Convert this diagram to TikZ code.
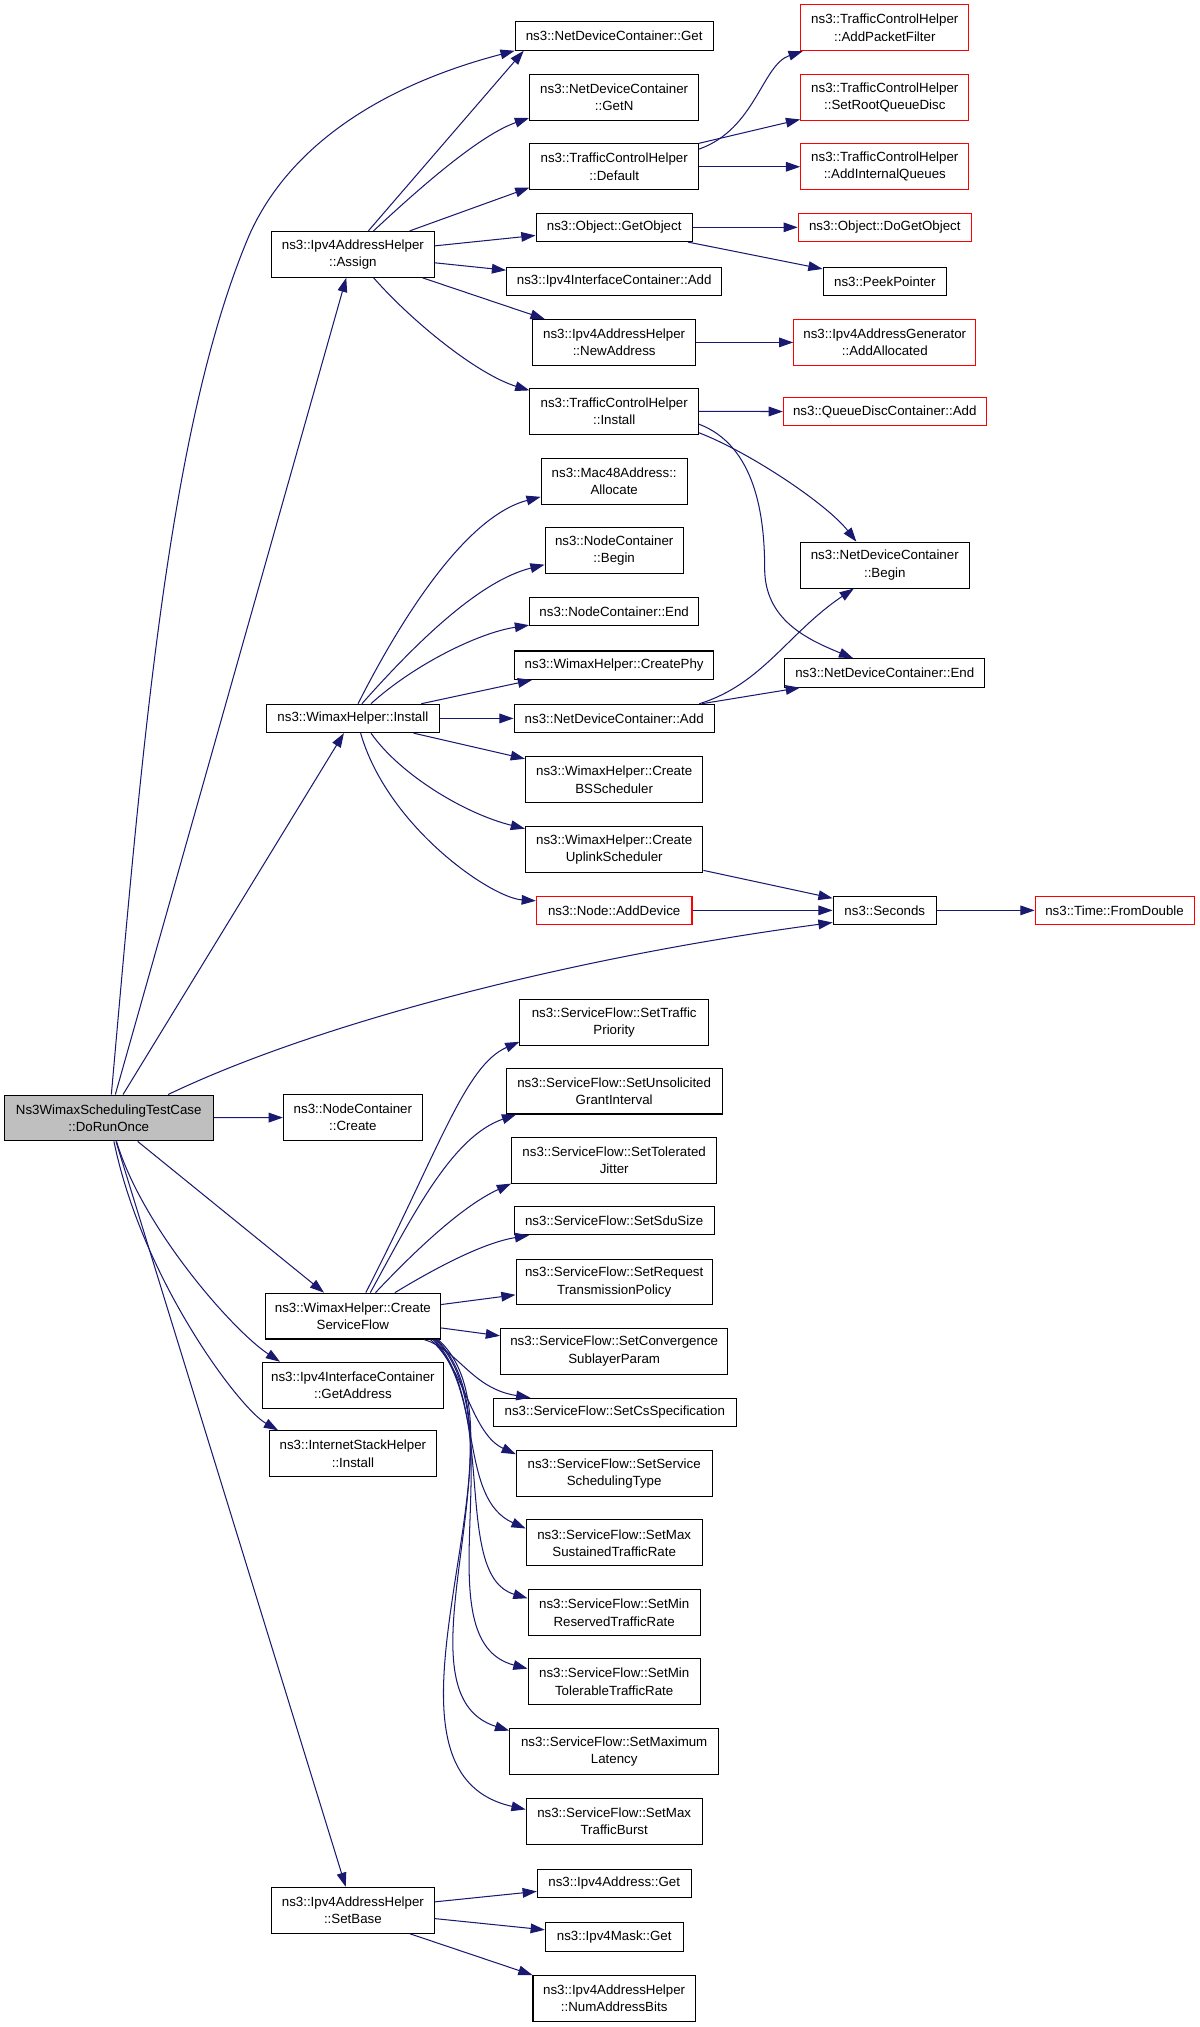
\documentclass[tikz,border=0pt]{standalone}
\usepackage{fontspec}
\setmainfont{Liberation Sans}
\usetikzlibrary{arrows.meta}
\tikzset{>={Triangle[length=11pt,width=7.5pt]}}
\definecolor{callblue}{HTML}{191970}
\definecolor{rootgray}{HTML}{BFBFBF}
\definecolor{extred}{HTML}{FF0000}

\begin{document}
\begin{tikzpicture}[x=1pt,y=-1pt,
  fn/.style={draw=black,line width=0.8pt,align=center,inner sep=0pt,
    font=\fontsize{10.3}{13.4}\selectfont,minimum height=22pt},
  two/.style={minimum height=35.5pt},
  ext/.style={draw=extred},
  start/.style={fill=rootgray},
  call/.style={->,draw=callblue,line width=0.8pt}]
\useasboundingbox (0,0) rectangle (929.03,1569.3);

\node[fn,two,start,minimum width=162pt] (root) at (84.2,865.5) {Ns3WimaxSchedulingTestCase\\::DoRunOnce};

\node[fn,two,minimum width=126.5pt] (assign) at (273.2,196.9) {ns3::Ipv4AddressHelper\\::Assign};
\node[fn,minimum width=134.3pt] (install) at (273.2,556.2) {ns3::WimaxHelper::Install};
\node[fn,two,minimum width=107.5pt] (create) at (273.2,865.1) {ns3::NodeContainer\\::Create};
\node[fn,two,minimum width=136pt] (csf) at (273.2,1018.9) {ns3::WimaxHelper::Create\\ServiceFlow};
\node[fn,two,minimum width=140pt] (getaddr) at (273.2,1072.4) {ns3::Ipv4InterfaceContainer\\::GetAddress};
\node[fn,two,minimum width=129pt] (ish) at (273.2,1125.5) {ns3::InternetStackHelper\\::Install};
\node[fn,two,minimum width=126pt] (setbase) at (273.2,1478.9) {ns3::Ipv4AddressHelper\\::SetBase};

\node[fn,minimum width=153.3pt] (get) at (475.5,27.9) {ns3::NetDeviceContainer::Get};
\node[fn,two,minimum width=131pt] (getn) at (475.5,75.2) {ns3::NetDeviceContainer\\::GetN};
\node[fn,two,minimum width=130.5pt] (default) at (475.5,129.1) {ns3::TrafficControlHelper\\::Default};
\node[fn,minimum width=121pt] (getobject) at (475.5,176) {ns3::Object::GetObject};
\node[fn,minimum width=166.6pt] (icadd) at (475.5,217.8) {ns3::Ipv4InterfaceContainer::Add};
\node[fn,two,minimum width=126.5pt] (newaddr) at (475.5,265.1) {ns3::Ipv4AddressHelper\\::NewAddress};
\node[fn,two,minimum width=130.5pt] (tchinstall) at (475.5,318.4) {ns3::TrafficControlHelper\\::Install};
\node[fn,two,minimum width=113pt] (mac48) at (475.5,372.5) {ns3::Mac48Address::\\Allocate};
\node[fn,two,minimum width=107pt] (ncbegin) at (475.5,426) {ns3::NodeContainer\\::Begin};
\node[fn,minimum width=131pt] (ncend) at (475.5,473.6) {ns3::NodeContainer::End};
\node[fn,minimum width=154.3pt] (createphy) at (475.5,515) {ns3::WimaxHelper::CreatePhy};
\node[fn,minimum width=155pt] (ndcadd) at (475.5,556.2) {ns3::NetDeviceContainer::Add};
\node[fn,two,minimum width=137.4pt] (bss) at (475.5,603.6) {ns3::WimaxHelper::Create\\BSScheduler};
\node[fn,two,minimum width=137.4pt] (uplink) at (475.5,657.7) {ns3::WimaxHelper::Create\\UplinkScheduler};
\node[fn,ext,minimum width=120.5pt] (adddevice) at (475.5,704.8) {ns3::Node::AddDevice};

\node[fn,two,minimum width=146pt] (tp) at (475.5,791.4) {ns3::ServiceFlow::SetTraffic\\Priority};
\node[fn,two,minimum width=167pt] (sugi) at (475.5,844.7) {ns3::ServiceFlow::SetUnsolicited\\GrantInterval};
\node[fn,two,minimum width=159pt] (jitter) at (475.5,898.2) {ns3::ServiceFlow::SetTolerated\\Jitter};
\node[fn,minimum width=155pt] (sdu) at (475.5,945) {ns3::ServiceFlow::SetSduSize};
\node[fn,two,minimum width=152pt] (rtp) at (475.5,992.5) {ns3::ServiceFlow::SetRequest\\TransmissionPolicy};
\node[fn,two,minimum width=176pt] (csp) at (475.5,1046) {ns3::ServiceFlow::SetConvergence\\SublayerParam};
\node[fn,minimum width=188pt] (css) at (476,1093.5) {ns3::ServiceFlow::SetCsSpecification};
\node[fn,two,minimum width=151.5pt] (sst) at (475.5,1141) {ns3::ServiceFlow::SetService\\SchedulingType};
\node[fn,two,minimum width=136.3pt] (maxsus) at (475.5,1194.5) {ns3::ServiceFlow::SetMax\\SustainedTrafficRate};
\node[fn,two,minimum width=133.4pt] (minres) at (475.5,1248.5) {ns3::ServiceFlow::SetMin\\ReservedTrafficRate};
\node[fn,two,minimum width=133.4pt] (mintol) at (475.5,1302) {ns3::ServiceFlow::SetMin\\TolerableTrafficRate};
\node[fn,two,minimum width=161.8pt] (maxlat) at (475.5,1356) {ns3::ServiceFlow::SetMaximum\\Latency};
\node[fn,two,minimum width=136.3pt] (mtb) at (475.5,1410) {ns3::ServiceFlow::SetMax\\TrafficBurst};

\node[fn,minimum width=119pt] (ipv4get) at (475.5,1458.2) {ns3::Ipv4Address::Get};
\node[fn,minimum width=106.6pt] (mask) at (475.5,1499.5) {ns3::Ipv4Mask::Get};
\node[fn,two,minimum width=125.7pt] (numbits) at (475.5,1547.2) {ns3::Ipv4AddressHelper\\::NumAddressBits};

\node[fn,two,ext,minimum width=130.3pt] (apf) at (685,21.5) {ns3::TrafficControlHelper\\::AddPacketFilter};
\node[fn,two,ext,minimum width=130.3pt] (srqd) at (685,75.3) {ns3::TrafficControlHelper\\::SetRootQueueDisc};
\node[fn,two,ext,minimum width=130.3pt] (aiq) at (685,129.1) {ns3::TrafficControlHelper\\::AddInternalQueues};
\node[fn,ext,minimum width=134pt] (dgo) at (685,176) {ns3::Object::DoGetObject};
\node[fn,minimum width=95.6pt] (peek) at (685,217.8) {ns3::PeekPointer};
\node[fn,two,ext,minimum width=141pt] (addalloc) at (685,265.1) {ns3::Ipv4AddressGenerator\\::AddAllocated};
\node[fn,ext,minimum width=157pt] (qdcadd) at (685,318.7) {ns3::QueueDiscContainer::Add};
\node[fn,two,minimum width=131pt] (ndcbegin) at (685,437.5) {ns3::NetDeviceContainer\\::Begin};
\node[fn,minimum width=154.6pt] (ndcend) at (685,521) {ns3::NetDeviceContainer::End};
\node[fn,minimum width=80pt] (seconds) at (685,704.8) {ns3::Seconds};
\node[fn,ext,minimum width=123pt] (fromdouble) at (862.9,704.8) {ns3::Time::FromDouble};

\draw[call] ([xshift=2pt]root.north) .. controls (110,580) and (130,330) .. (193,182)
  .. controls (225,110) and (300,65) .. (get.south west);
\draw[call] (root) -- (assign);
\draw[call] (root) -- (install);
\draw[call] ([xshift=46pt]root.north) .. controls (250,790) and (450,740) .. ([yshift=2pt]seconds.south west);
\draw[call] (root) -- (create);
\draw[call] (root) -- (csf);
\draw[call] ([xshift=6pt]root.south) .. controls (110,950) and (180,1030) .. ([xshift=14pt]getaddr.north west);
\draw[call] ([xshift=4pt]root.south) .. controls (110,990) and (185,1090) .. ([xshift=7pt]ish.north west);
\draw[call] (root) -- (setbase);

\draw[call] ([xshift=12pt]assign.north) -- ([xshift=7pt]get.south west);
\draw[call] ([xshift=16pt]assign.north) .. controls (320,150) and (370,105) .. ([yshift=2pt]getn.south west);
\draw[call] ([xshift=44pt]assign.north) -- ([yshift=2pt]default.south west);
\draw[call] (assign) -- (getobject);
\draw[call] (assign) -- (icadd);
\draw[call] (assign) -- (newaddr);
\draw[call] ([xshift=16pt]assign.south) .. controls (320,250) and (370,290) .. ([yshift=-2pt]tchinstall.north west);

\draw[call] ([yshift=-4.5pt]default.north east) .. controls (585,100) and (590,50) .. ([xshift=2pt]apf.south west);
\draw[call] (default.north east) -- ([yshift=1pt]srqd.south west);
\draw[call] (default) -- (aiq);
\draw[call] (getobject) -- (dgo);
\draw[call] (getobject) -- (peek);
\draw[call] (newaddr) -- (addalloc);
\draw[call] (tchinstall) -- (qdcadd);
\draw[call] ([yshift=1.5pt]tchinstall.south east) .. controls (580,350) and (640,390) .. ([xshift=-22pt]ndcbegin.north);
\draw[call] ([yshift=-10pt]tchinstall.east) .. controls (585,345) and (592,400) .. (592,440)
  .. controls (592,480) and (625,495) .. ([xshift=-24.5pt]ndcend.north);

\draw[call] ([xshift=4pt]install.north) .. controls (310,480) and (360,400) .. ([yshift=6pt]mac48.south west);
\draw[call] ([xshift=7pt]install.north) .. controls (320,500) and (370,450) .. ([yshift=7pt]ncbegin.south west);
\draw[call] ([xshift=14pt]install.north) .. controls (320,515) and (370,490) .. ([yshift=1pt]ncend.south west);
\draw[call] ([xshift=53pt]install.north) -- ([xshift=14pt]createphy.south west);
\draw[call] (install) -- (ndcadd);
\draw[call] ([xshift=47pt]install.south) -- ([yshift=-2pt]bss.north west);
\draw[call] ([xshift=14pt]install.south) .. controls (310,600) and (360,630) .. ([yshift=-2pt]uplink.north west);
\draw[call] ([xshift=6pt]install.south) .. controls (300,640) and (380,695) .. ([yshift=-4pt]adddevice.north west);

\draw[call] ([xshift=-12pt]ndcadd.north east) .. controls (590,530) and (610,490) .. ([xshift=-24pt]ndcbegin.south);
\draw[call] ([xshift=-10pt]ndcadd.north east) -- ([xshift=12pt]ndcend.south west);
\draw[call] ([yshift=2pt]uplink.south east) -- ([yshift=-2pt]seconds.north west);
\draw[call] (adddevice) -- (seconds);
\draw[call] (seconds) -- (fromdouble);

\draw[call] ([xshift=10pt]csf.north) .. controls (340,890) and (360,825) .. ([yshift=3pt]tp.south west);
\draw[call] ([xshift=13.5pt]csf.north) .. controls (320,940) and (350,880) .. ([xshift=8pt]sugi.south west);
\draw[call] ([xshift=17.5pt]csf.north) .. controls (315,975) and (355,935) .. (jitter.south west);
\draw[call] ([xshift=32.5pt]csf.north) .. controls (340,980) and (375,962) .. ([xshift=12pt]sdu.south west);
\draw[call] (csf) -- (rtp);
\draw[call] (csf) -- (csp);
\draw[call] ([xshift=55pt]csf.south) .. controls (355,1045) and (365,1075) .. ([xshift=29pt]css.north west);
\draw[call] ([xshift=60pt]csf.south) .. controls (360,1060) and (365,1110) .. ([yshift=-3pt]sst.north west);
\draw[call] ([xshift=62pt]csf.south) .. controls (375,1080) and (355,1160) .. ([yshift=-7pt]maxsus.north west);
\draw[call] ([xshift=63pt]csf.south) .. controls (385,1090) and (350,1220) .. ([yshift=-7pt]minres.north west);
\draw[call] ([xshift=64pt]csf.south) .. controls (400,1100) and (325,1270) .. ([yshift=-8pt]mintol.north west);
\draw[call] ([xshift=65pt]csf.south) .. controls (410,1110) and (300,1310) .. ([yshift=-2pt]maxlat.north west);
\draw[call] ([xshift=66pt]csf.south) .. controls (420,1110) and (270,1370) .. ([yshift=-9pt]mtb.north west);

\draw[call] (setbase) -- (ipv4get);
\draw[call] (setbase) -- (mask);
\draw[call] ([xshift=44pt]setbase.south) -- (numbits.north west);
\end{tikzpicture}
\end{document}
